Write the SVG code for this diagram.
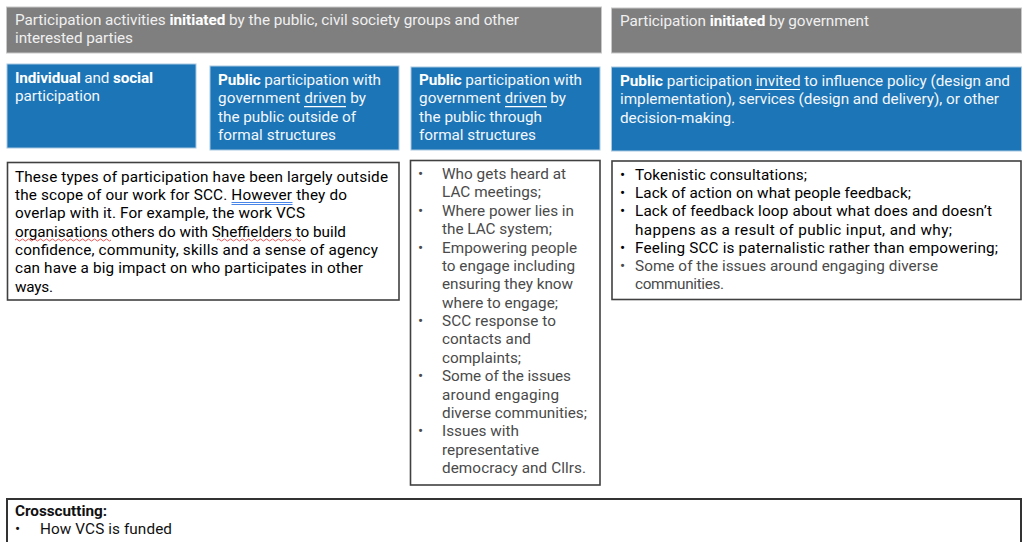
<svg xmlns="http://www.w3.org/2000/svg" width="1029" height="542" viewBox="0 0 1029 542">
<style>
.t{font-family:Roboto,"Liberation Sans",sans-serif;font-size:15.3px}
.hdr{fill:#7f7f7f;stroke:#c8c8c8;stroke-width:1}
.hdrt{fill:#f0f0f0}
.blue{fill:#1b75b6;stroke:#a9c8e2;stroke-width:1}
.bt{fill:#f4f7fb}
.b{font-weight:bold;fill:#ffffff}
.box{fill:#ffffff;stroke:#404040;stroke-width:1.6}
.dark{fill:#000000}
.mid{fill:#4a4a4a}
.ul{stroke:#ffffff;stroke-width:1.2}
</style>
<rect width="1029" height="542" fill="#ffffff"/>
<g id="header-public">
<rect class="hdr" x="6.5" y="7" width="595" height="46"/>
<text class="t hdrt" x="15" y="24.5" textLength="504">Participation activities <tspan font-weight="bold" fill="#ffffff">initiated</tspan> by the public, civil society groups and other</text>
<text class="t hdrt" x="15" y="43" textLength="118">interested parties</text>
</g>
<g id="header-government">
<rect class="hdr" x="611.5" y="8" width="410" height="45"/>
<text class="t hdrt" x="620" y="26" textLength="249">Participation <tspan font-weight="bold" fill="#ffffff">initiated</tspan> by government</text>
</g>
<g id="individual-social">
<rect class="blue" x="7" y="64" width="189" height="84"/>
<text class="t bt" x="15" y="82.5" textLength="138"><tspan class="b">Individual</tspan> and <tspan class="b">social</tspan></text>
<text class="t bt" x="15" y="101" textLength="85">participation</text>
</g>
<g id="public-outside">
<rect class="blue" x="210" y="66" width="189" height="84"/>
<text class="t bt" x="218" y="85" textLength="163"><tspan class="b">Public</tspan> participation with</text>
<text class="t bt" x="218" y="103.3" textLength="148">government driven by</text>
<text class="t bt" x="218" y="121.6" textLength="138">the public outside of</text>
<text class="t bt" x="218" y="139.9" textLength="118">formal structures</text>
<line class="ul" x1="304" y1="106.7" x2="346" y2="106.7"/>
</g>
<g id="public-through">
<rect class="blue" x="411" y="67" width="189" height="83"/>
<text class="t bt" x="419" y="85" textLength="163"><tspan class="b">Public</tspan> participation with</text>
<text class="t bt" x="419" y="103.3" textLength="147">government driven by</text>
<text class="t bt" x="419" y="121.6" textLength="123">the public through</text>
<text class="t bt" x="419" y="139.9" textLength="117">formal structures</text>
<line class="ul" x1="505" y1="106.7" x2="547" y2="106.7"/>
</g>
<g id="public-invited">
<rect class="blue" x="611.5" y="67" width="410" height="84"/>
<text class="t bt" x="620" y="86" textLength="390"><tspan class="b">Public</tspan> participation invited to influence policy (design and</text>
<text class="t bt" x="620" y="104.3" textLength="379">implementation), services (design and delivery), or other</text>
<text class="t bt" x="620" y="122.6" textLength="115">decision-making.</text>
<line class="ul" x1="755" y1="89.5" x2="800" y2="89.5"/>
</g>
<g id="notes-individual">
<rect class="box" x="7.5" y="162.5" width="391.5" height="137.5"/>
<text class="t dark" x="15" y="181.7" textLength="373">These types of participation have been largely outside</text>
<text class="t dark" x="15" y="200" textLength="332">the scope of our work for SCC. However they do</text>
<text class="t dark" x="15" y="218.3" textLength="290">overlap with it. For example, the work VCS</text>
<text class="t dark" x="15" y="236.6" textLength="331">organisations others do with Sheffielders to build</text>
<text class="t dark" x="15" y="254.9" textLength="363">confidence, community, skills and a sense of agency</text>
<text class="t dark" x="15" y="273.2" textLength="348">can have a big impact on who participates in other</text>
<text class="t dark" x="15" y="291.5" textLength="38">ways.</text>
<path d="M231.5 202.5H292.5M231.5 204.5H292.5" stroke="#4a86e8" stroke-width="1" fill="none"/>
<path d="M15 240q1.5-2 3 0t3 0t3 0t3 0t3 0t3 0t3 0t3 0t3 0t3 0t3 0t3 0t3 0t3 0t3 0t3 0t3 0t3 0t3 0t3 0t3 0t3 0t3 0t3 0t3 0t3 0t3 0t3 0t3 0t3 0t3 0t3 0" stroke="#e03030" stroke-width="0.8" fill="none"/>
<path d="M217 240q1.5-2 3 0t3 0t3 0t3 0t3 0t3 0t3 0t3 0t3 0t3 0t3 0t3 0t3 0t3 0t3 0t3 0t3 0t3 0t3 0t3 0t3 0t3 0t3 0t3 0t3 0t3 0t3 0t3 0" stroke="#e03030" stroke-width="0.8" fill="none"/>
</g>
<g id="notes-formal">
<rect class="box" x="410.5" y="160.5" width="189.5" height="324.5"/>
<g class="t mid">
<text x="418" y="179">•</text><text x="442" y="179" textLength="124">Who gets heard at</text>
<text x="442" y="197.4" textLength="99">LAC meetings;</text>
<text x="418" y="215.8">•</text><text x="442" y="215.8" textLength="132">Where power lies in</text>
<text x="442" y="234.1" textLength="110">the LAC system;</text>
<text x="418" y="252.5">•</text><text x="442" y="252.5" textLength="135">Empowering people</text>
<text x="442" y="270.9" textLength="133">to engage including</text>
<text x="442" y="289.3" textLength="131">ensuring they know</text>
<text x="442" y="307.6" textLength="116">where to engage;</text>
<text x="418" y="326">•</text><text x="442" y="326" textLength="114">SCC response to</text>
<text x="442" y="344.4" textLength="89">contacts and</text>
<text x="442" y="362.8" textLength="79">complaints;</text>
<text x="418" y="381.1">•</text><text x="442" y="381.1" textLength="129">Some of the issues</text>
<text x="442" y="399.5" textLength="117">around engaging</text>
<text x="442" y="417.9" textLength="145">diverse communities;</text>
<text x="418" y="436.3">•</text><text x="442" y="436.3" textLength="77">Issues with</text>
<text x="442" y="454.6" textLength="97">representative</text>
<text x="442" y="473" textLength="144">democracy and Cllrs.</text>
</g>
</g>
<g id="notes-government">
<rect class="box" x="612" y="161" width="409" height="138.5"/>
<g class="t dark">
<text x="620" y="180">•</text><text x="635" y="180" textLength="172">Tokenistic consultations;</text>
<text x="620" y="198.2">•</text><text x="635" y="198.2" textLength="276">Lack of action on what people feedback;</text>
<text x="620" y="216.4">•</text><text x="635" y="216.4" textLength="357">Lack of feedback loop about what does and doesn’t</text>
<text x="635" y="234.6" textLength="317">happens as a result of public input, and why;</text>
<text x="620" y="252.8">•</text><text x="635" y="252.8" textLength="363">Feeling SCC is paternalistic rather than empowering;</text>
</g>
<g class="t mid">
<text x="620" y="271">•</text><text x="635" y="271" textLength="303">Some of the issues around engaging diverse</text>
<text x="635" y="289.2" textLength="89">communities.</text>
</g>
</g>
<g id="crosscutting">
<path d="M7 542V499H1021V542" fill="#ffffff" stroke="#333333" stroke-width="2"/>
<text class="t" x="15" y="516" font-weight="bold" fill="#111111" textLength="92">Crosscutting:</text>
<text class="t" x="15" y="534" fill="#111111">•</text>
<text class="t" x="40" y="534" fill="#111111" textLength="132">How VCS is funded</text>
</g>
<g id="connectors"/>
</svg>
